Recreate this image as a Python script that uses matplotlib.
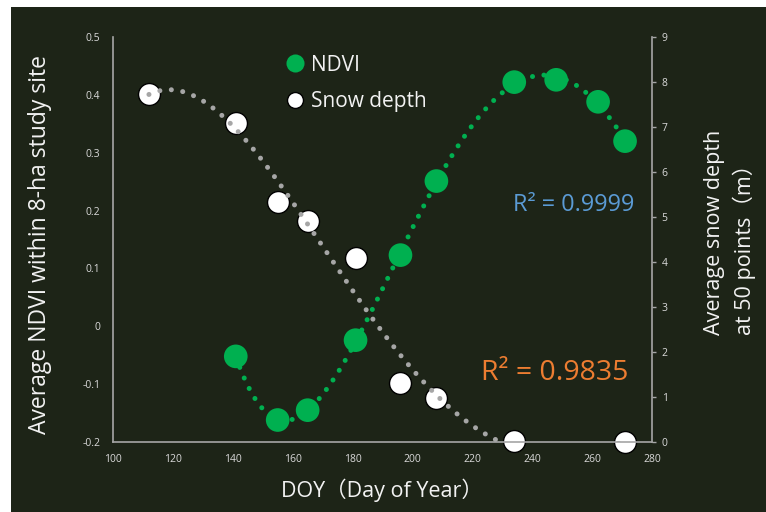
import numpy as np
import matplotlib
matplotlib.use("Agg")
import matplotlib.pyplot as plt
from matplotlib.lines import Line2D
from matplotlib.patches import Rectangle

plt.rcParams['font.family'] = ['Open Sans', 'Noto Sans CJK JP', 'DejaVu Sans']

# data
ndvi_doy = [141, 155, 165, 181, 196, 208, 234, 248, 262, 271]
ndvi_val = [-0.052, -0.162, -0.145, -0.024, 0.123, 0.251, 0.422, 0.426, 0.388, 0.320]
snow_doy = [112, 141, 155, 165, 181, 196, 208, 234, 271]
snow_val = [7.73, 7.09, 5.33, 4.91, 4.09, 1.31, 0.98, 0.02, 0.0]
x_ticks = [100, 120, 140, 160, 180, 200, 220, 240, 260, 280]
ndvi_ticks = [-0.2, -0.1, 0, 0.1, 0.2, 0.3, 0.4, 0.5]
snow_ticks = [0, 1, 2, 3, 4, 5, 6, 7, 8, 9]

BG = '#1d2417'
GREEN = '#00b050'
GRAY = '#a6a6a6'
TXT = '#f2f2f2'
TICK_TXT = '#d9d9d9'

fig = plt.figure(figsize=(7.66, 5.12), dpi=100, facecolor='white')
fig.patches.append(Rectangle((11 / 766, 0), 1, (512 - 7) / 512, transform=fig.transFigure,
                             facecolor=BG, edgecolor='none', zorder=-1))

ax1 = fig.add_axes([113 / 766, 70 / 512, 539 / 766, 405 / 512])
ax2 = ax1.twinx()
for a in (ax1, ax2):
    a.set_facecolor('none')
    for s in a.spines.values():
        s.set_visible(False)

ax1.spines['left'].set_visible(True)
ax1.spines['bottom'].set_visible(True)
ax2.spines['right'].set_visible(True)
for s in (ax1.spines['left'], ax1.spines['bottom'], ax2.spines['right']):
    s.set_color(GRAY)
    s.set_linewidth(1.2)

ax1.set_xlim(100, 280)
ax1.set_ylim(-0.2, 0.5)
ax2.set_ylim(0, 9)
ax1.set_xticks(x_ticks)
ax1.set_yticks(ndvi_ticks)
ax1.set_yticklabels(['-0.2', '-0.1', '0', '0.1', '0.2', '0.3', '0.4', '0.5'])
ax2.set_yticks(snow_ticks)
ax1.tick_params(axis='x', length=0, pad=9, labelsize=7.5, labelcolor=TICK_TXT)
ax1.tick_params(axis='y', length=0, pad=9, labelsize=7.5, labelcolor=TICK_TXT)
ax2.tick_params(axis='y', length=3, width=1, color=GRAY, pad=4, labelsize=7.5, labelcolor=TICK_TXT)

# fitted polynomial trendlines
sx = np.linspace(min(snow_doy), max(snow_doy), 200)
sfit = np.polyval(np.polyfit(snow_doy, snow_val, 4), sx)
nx = np.linspace(min(ndvi_doy), max(ndvi_doy), 200)
nfit = np.polyval(np.polyfit(ndvi_doy, ndvi_val, 5), nx)

ax2.scatter(snow_doy, snow_val, s=250, color='white', edgecolor='black', linewidth=1.0, zorder=2, clip_on=False)
ax1.scatter(ndvi_doy, ndvi_val, s=290, color=GREEN, edgecolor='none', zorder=3, clip_on=False)
ax2.plot(sx, sfit, color=GRAY, lw=3.6, linestyle=(0, (0.01, 2.3)), dash_capstyle='round', zorder=4)
ax1.plot(nx, nfit, color=GREEN, lw=3.6, linestyle=(0, (0.01, 2.3)), dash_capstyle='round', zorder=4)
ax1.set_zorder(ax2.get_zorder() + 1)

handles = [Line2D([], [], marker='o', ls='none', markersize=13, markerfacecolor=GREEN, markeredgecolor='none'),
           Line2D([], [], marker='o', ls='none', markersize=11.5, markerfacecolor='white', markeredgecolor='black')]
fig.legend(handles, ['NDVI', 'Snow depth'], loc='upper left', bbox_to_anchor=(264 / 766, 1 - 36 / 512),
           frameon=False, fontsize=15, labelcolor=TXT, handletextpad=0.15, labelspacing=0.75,
           handlelength=1.2)

fig.text(574 / 766, 1 - 205 / 512, 'R² = 0.9999', color='#5b9bd5', fontsize=16.8, ha='center', va='center')
fig.text(555 / 766, 1 - 373 / 512, 'R² = 0.9835', color='#ed7d31', fontsize=20.5, ha='center', va='center')

fig.text(40 / 766, 1 - 245 / 512, 'Average NDVI within 8-ha study site', color=TXT, fontsize=16.5,
         rotation=90, ha='center', va='center')
fig.text(730 / 766, 1 - 232 / 512, 'Average snow depth\nat 50 points（m）', color=TXT, fontsize=15.5,
         rotation=90, ha='center', va='center', multialignment='left', linespacing=1.45)
fig.text(382 / 766, 1 - 490 / 512, 'DOY（Day of Year）', color=TXT, fontsize=15.5, ha='center', va='center')

fig.savefig('out.png', dpi=100, facecolor='white')
